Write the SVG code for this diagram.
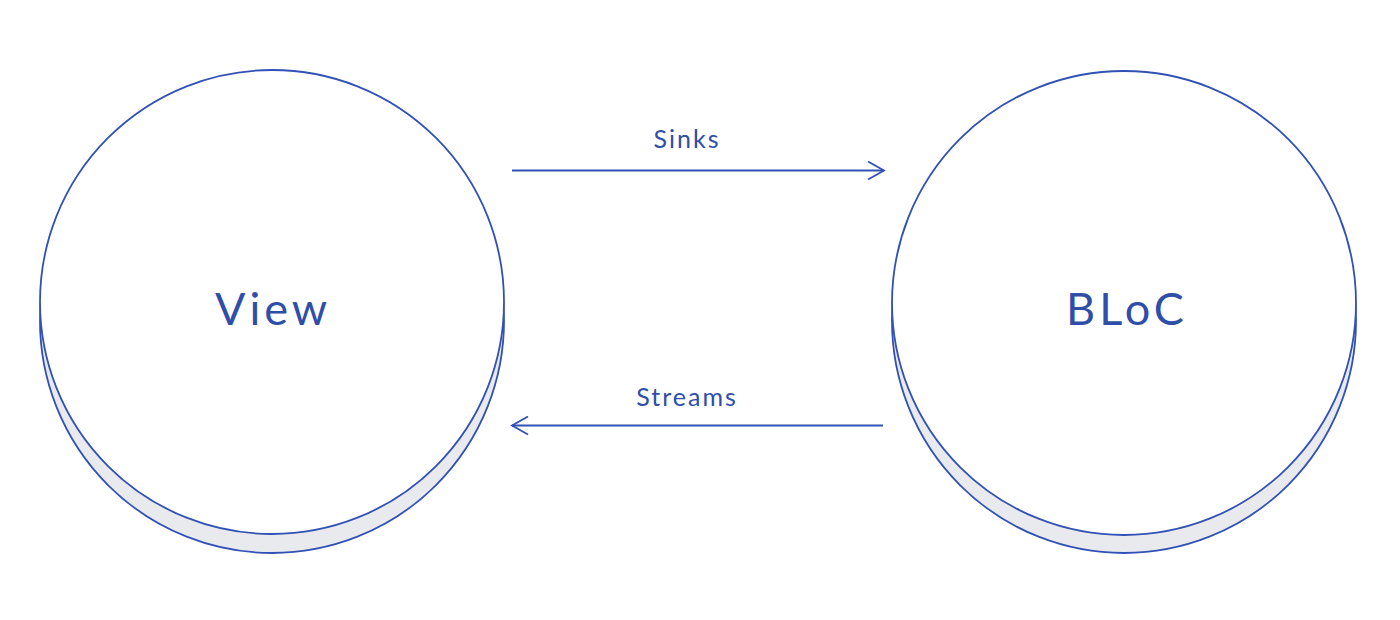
<svg xmlns="http://www.w3.org/2000/svg" width="1400" height="620" viewBox="0 0 1400 620">
<style>
.shadow{fill:#e9eaee;stroke:#3151b5;stroke-width:1.8}
.face{fill:#ffffff;stroke:#3151b5;stroke-width:1.8}
.title{font-family:Lato,"Open Sans",sans-serif;font-size:45px;letter-spacing:4px;fill:#2f4ea8;text-anchor:middle}
.label{font-family:Lato,"Open Sans",sans-serif;font-size:25px;letter-spacing:2px;fill:#2f4ea8;text-anchor:middle}
.conn{stroke:#3151b5;stroke-width:1.8;fill:none}
</style>
<defs>
<marker id="arr" viewBox="0 0 20 20" refX="17" refY="10" markerWidth="20" markerHeight="20" markerUnits="userSpaceOnUse" orient="auto-start-reverse">
<path d="M1,1 L17,10 L1,19" fill="none" stroke="#3151b5" stroke-width="1.8"/>
</marker>
</defs>
<rect width="1400" height="620" fill="#ffffff"/>
<g id="view">
<circle class="shadow" cx="272" cy="321" r="232"/>
<circle class="face" cx="272" cy="302" r="232"/>
<text class="title" x="273" y="325">View</text>
</g>
<g id="bloc">
<circle class="shadow" cx="1124" cy="321" r="232"/>
<circle class="face" cx="1124" cy="303" r="232"/>
<text class="title" x="1127" y="325">BLoC</text>
</g>
<g id="connectors">
<line class="conn" x1="512" y1="170.5" x2="884" y2="170.5" marker-end="url(#arr)"/>
<text class="label" x="687" y="148">Sinks</text>
<line class="conn" x1="883" y1="425.5" x2="512" y2="425.5" marker-end="url(#arr)"/>
<text class="label" x="687" y="406">Streams</text>
</g>
</svg>
